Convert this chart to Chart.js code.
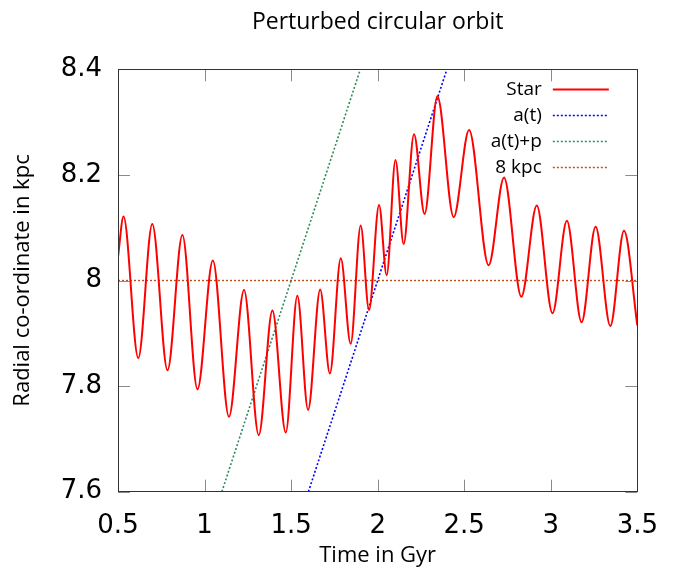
<!DOCTYPE html>
<html>
<head>
<meta charset="utf-8">
<script src="https://cdn.jsdelivr.net/npm/chart.js@4/dist/chart.umd.min.js"></script>
<style>
html,body{margin:0;padding:0;background:#fff;}
#wrap{width:677px;height:569px;position:relative;}
</style>
</head>
<body>
<div id="wrap"><canvas id="c" width="677" height="569"></canvas></div>
<script>
// ---- data ----
const starTime = [0.5, 0.532, 0.617, 0.698, 0.786, 0.872, 0.959, 1.048, 1.141, 1.228, 1.313, 1.392, 1.469, 1.536, 1.598, 1.668, 1.724, 1.787, 1.844, 1.902, 1.950, 2.008, 2.052, 2.103, 2.150, 2.210, 2.271, 2.345, 2.439, 2.528, 2.641, 2.730, 2.830, 2.919, 3.010, 3.093, 3.178, 3.259, 3.344, 3.423, 3.5];
const starRadius = [8.045, 8.121, 7.853, 8.107, 7.830, 8.086, 7.794, 8.038, 7.742, 7.982, 7.707, 7.943, 7.712, 7.971, 7.755, 7.983, 7.824, 8.042, 7.880, 8.104, 7.944, 8.143, 8.010, 8.228, 8.069, 8.277, 8.126, 8.349, 8.120, 8.285, 8.029, 8.195, 7.969, 8.142, 7.938, 8.113, 7.921, 8.102, 7.914, 8.094, 7.915];
const aTime = [1.6, 2.4];
const aRadius = [7.6, 8.4];
const apTime = [1.1, 1.9];
const apRadius = [7.6, 8.4];
const refTime = [0.5, 3.5];
const refRadius = [8, 8];
const seriesLabels = ['Star', 'a(t)', 'a(t)+p', '8 kpc'];
const xTickLabels = ['0.5', '1', '1.5', '2', '2.5', '3', '3.5'];
const yTickLabels = ['7.6', '7.8', '8', '8.2', '8.4'];
const titleText = 'Perturbed circular orbit';
const xTitle = 'Time in Gyr';
const yTitle = 'Radial co-ordinate in kpc';

const zip = (xs, ys) => xs.map((x, i) => ({x: x, y: ys[i]}));

const frameTicks = {
  id: 'frameTicks',
  afterDatasetsDraw(chart) {
    const {ctx, chartArea: a, scales} = chart;
    ctx.save();
    ctx.strokeStyle = '#8a8a8a';
    ctx.lineWidth = 1;
    const L = 12;
    scales.x.ticks.forEach(t => {
      const px = Math.round(scales.x.getPixelForValue(t.value)) + 0.5;
      ctx.beginPath();
      ctx.moveTo(px, a.bottom); ctx.lineTo(px, a.bottom - L);
      ctx.moveTo(px, a.top); ctx.lineTo(px, a.top + L);
      ctx.stroke();
    });
    scales.y.ticks.forEach(t => {
      const py = Math.round(scales.y.getPixelForValue(t.value)) + 0.5;
      ctx.beginPath();
      ctx.moveTo(a.left, py); ctx.lineTo(a.left + L, py);
      ctx.moveTo(a.right, py); ctx.lineTo(a.right - L, py);
      ctx.stroke();
    });
    ctx.strokeStyle = '#333';
    ctx.strokeRect(Math.round(a.left) + 0.5, Math.round(a.top) + 0.5, Math.round(a.right - a.left), Math.round(a.bottom - a.top));
    ctx.restore();
  },
  afterDraw(chart) {
    const {ctx, chartArea: a} = chart;
    ctx.save();
    // title centred over the plot area
    ctx.font = '23px "Open Sans"';
    ctx.fillStyle = '#000';
    ctx.textAlign = 'center';
    ctx.textBaseline = 'middle';
    ctx.fillText(titleText, (a.left + a.right) / 2, 22);
    // legend: text right-aligned, sample to its right
    ctx.font = '19px "Open Sans"';
    ctx.textAlign = 'right';
    chart.data.datasets.forEach((ds, i) => {
      const y = a.top + 20 + i * 26;
      ctx.fillStyle = '#000';
      ctx.fillText(ds.label, a.right - 95.5, y);
      ctx.beginPath();
      ctx.strokeStyle = ds.borderColor;
      ctx.lineWidth = ds.borderWidth;
      ctx.setLineDash(ds.borderDash || []);
      ctx.moveTo(a.right - 84.5, Math.round(y) + 0.5);
      ctx.lineTo(a.right - 28.5, Math.round(y) + 0.5);
      ctx.stroke();
    });
    ctx.restore();
  }
};

new Chart(document.getElementById('c'), {
  type: 'line',
  data: {
    datasets: [
      {label: seriesLabels[0], data: zip(starTime, starRadius), borderColor: '#ff0000', borderWidth: 2, pointRadius: 0, cubicInterpolationMode: 'monotone', fill: false},
      {label: seriesLabels[1], data: zip(aTime, aRadius), borderColor: '#0000ff', borderWidth: 1.6, borderDash: [2, 2], pointRadius: 0, fill: false},
      {label: seriesLabels[2], data: zip(apTime, apRadius), borderColor: '#2e8b57', borderWidth: 1.6, borderDash: [2, 2], pointRadius: 0, fill: false},
      {label: seriesLabels[3], data: zip(refTime, refRadius), borderColor: '#b8501e', borderWidth: 1.4, borderDash: [2, 2], pointRadius: 0, fill: false}
    ]
  },
  options: {
    responsive: false,
    animation: false,
    events: [],
    layout: {padding: {left: 0, right: 29.5, top: 69.3, bottom: 0}},
    plugins: {
      legend: {display: false},
      tooltip: {enabled: false},
      title: {display: false}
    },
    scales: {
      x: {
        type: 'linear',
        min: 0.5, max: 3.5,
        afterFit(s) { s.height = 77.3; },
        grid: {display: false, drawTicks: false},
        border: {display: false},
        ticks: {
          stepSize: 0.5,
          padding: 19,
          color: '#000',
          maxRotation: 0,
          font: {family: '"DejaVu Sans"', size: 26, lineHeight: 1.2},
          callback: (v, i) => xTickLabels[i]
        },
        title: {display: true, text: xTitle, color: '#000', padding: {top: 0, bottom: 0}, font: {family: '"Open Sans"', size: 22, lineHeight: 1.2}}
      },
      y: {
        type: 'linear',
        min: 7.6, max: 8.4,
        afterFit(s) { s.width = 118; },
        grid: {display: false, drawTicks: false},
        border: {display: false},
        ticks: {
          stepSize: 0.2,
          padding: 16,
          color: '#000',
          font: {family: '"DejaVu Sans"', size: 26, lineHeight: 1.2},
          callback: (v, i) => yTickLabels[i]
        },
        title: {display: true, text: yTitle, color: '#000', padding: {top: 10, bottom: 0}, font: {family: '"Open Sans"', size: 22, lineHeight: 1.2}}
      }
    }
  },
  plugins: [frameTicks]
});
</script>
</body>
</html>
